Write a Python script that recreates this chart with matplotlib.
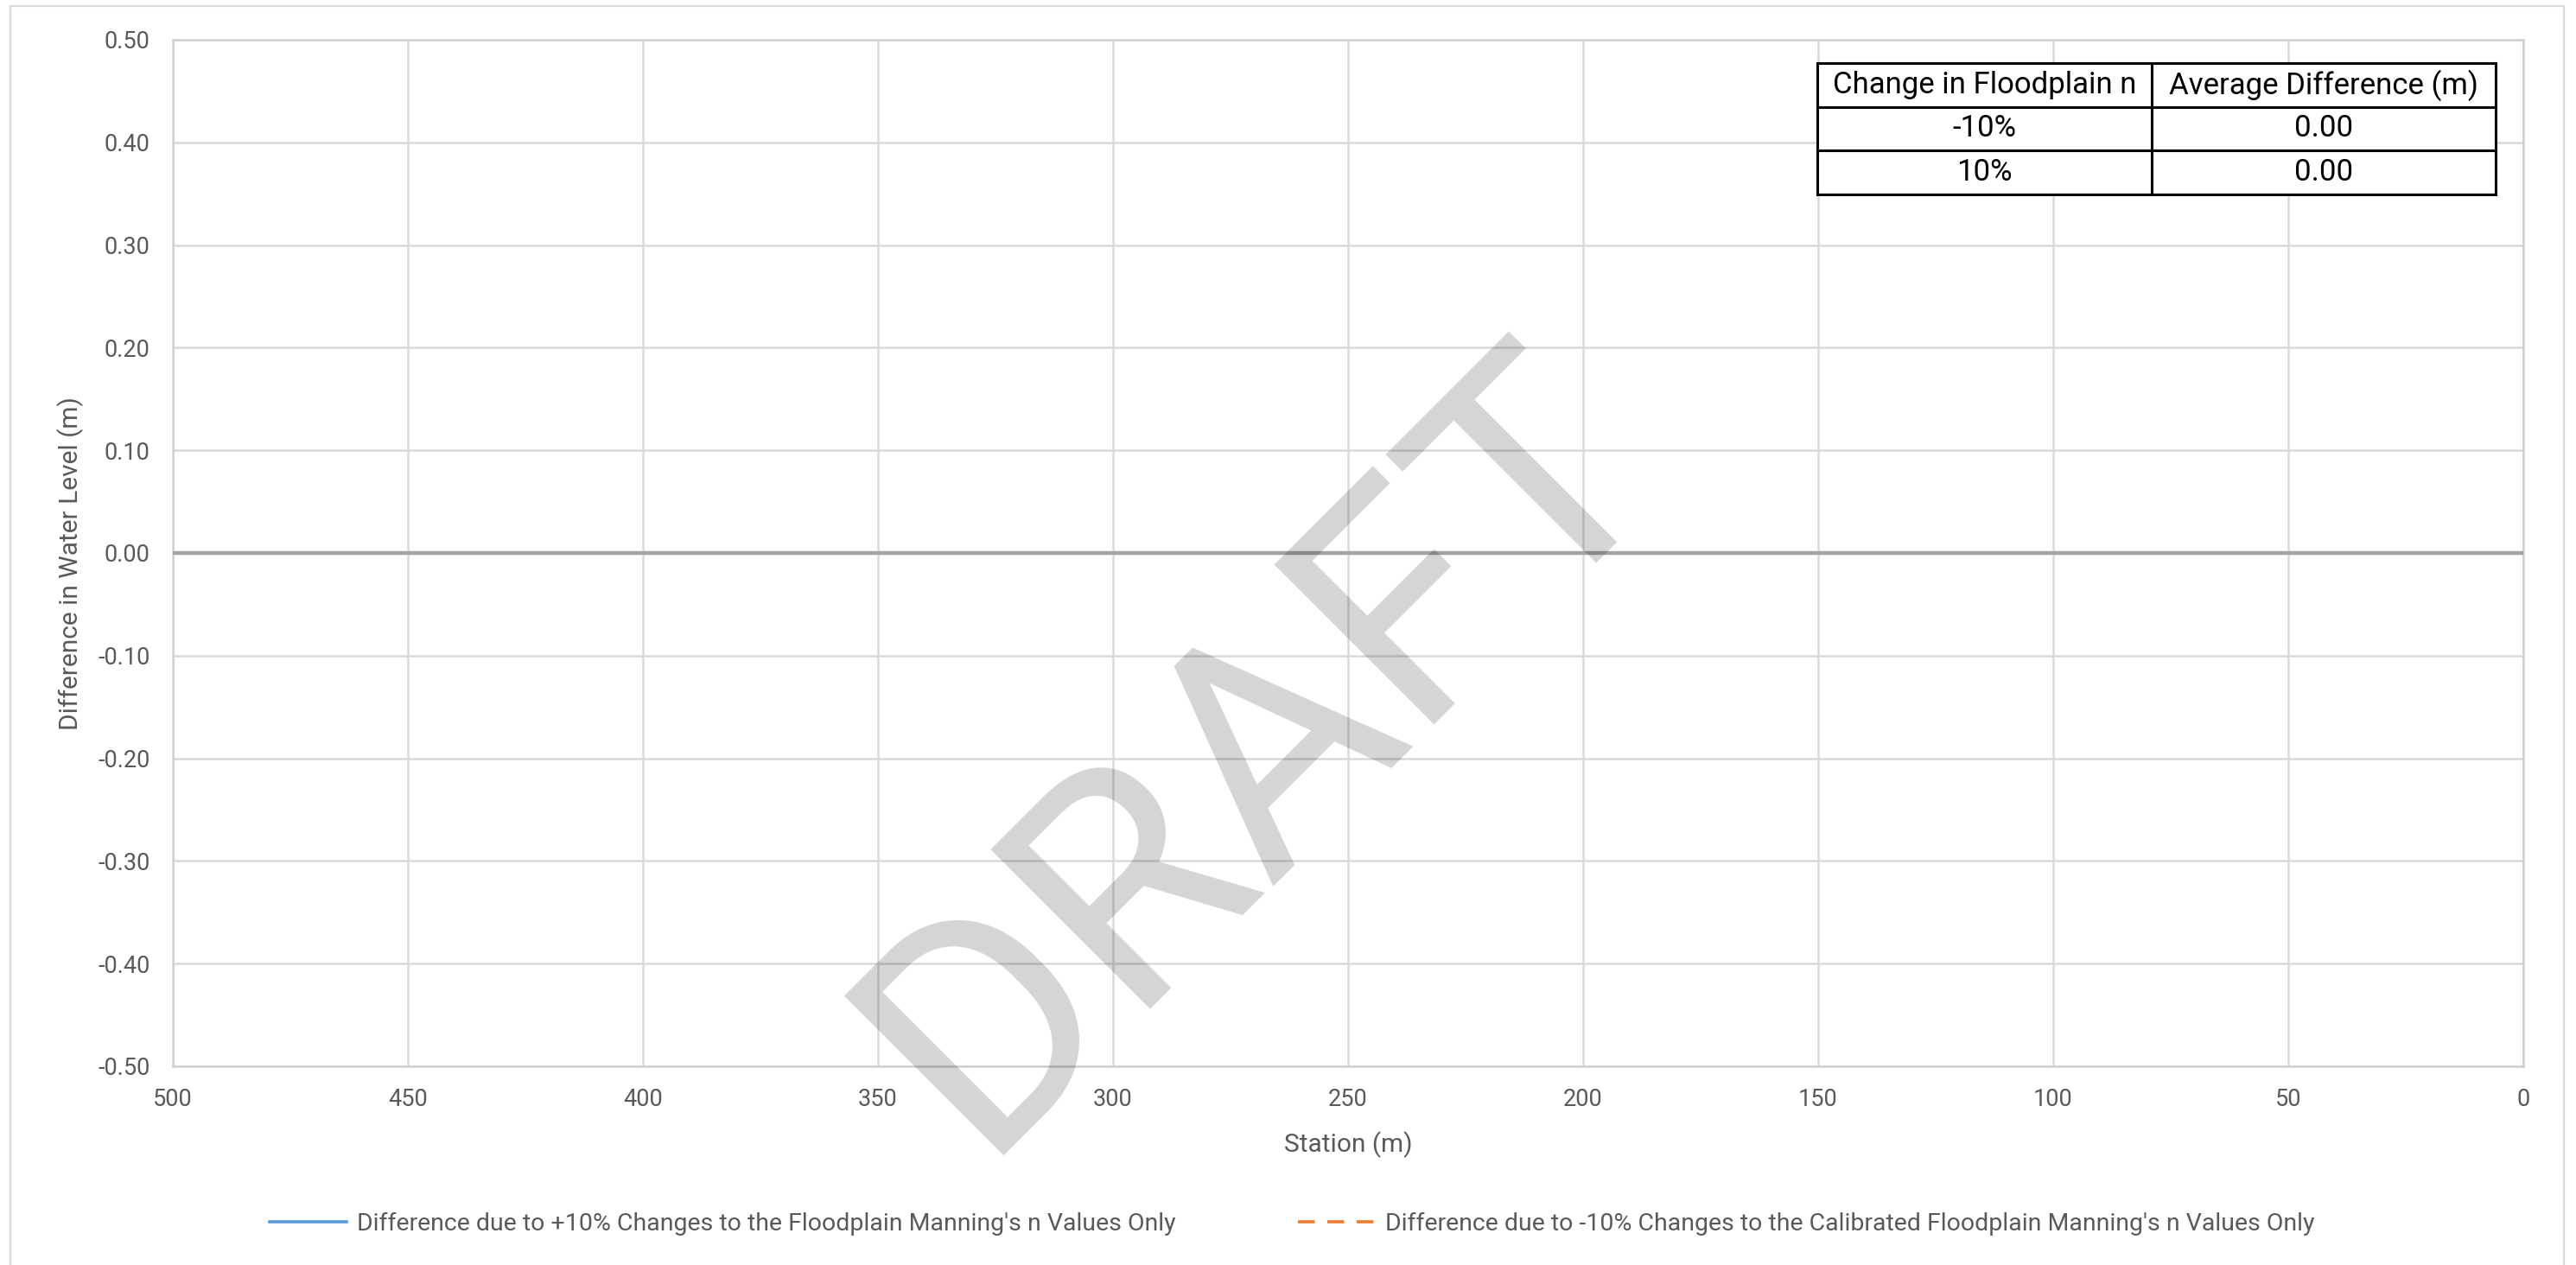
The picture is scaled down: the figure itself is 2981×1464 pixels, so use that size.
import matplotlib
matplotlib.use("Agg")
import matplotlib.pyplot as plt
from matplotlib.patches import Rectangle

plt.rcParams['font.family'] = ['Roboto', 'DejaVu Sans']

# ---- data ----
station = [500, 450, 400, 350, 300, 250, 200, 150, 100, 50, 0]
diff_plus10 = [0.00, 0.00, 0.00, 0.00, 0.00, 0.00, 0.00, 0.00, 0.00, 0.00, 0.00]
diff_minus10 = [0.00, 0.00, 0.00, 0.00, 0.00, 0.00, 0.00, 0.00, 0.00, 0.00, 0.00]

x_ticks = [500, 450, 400, 350, 300, 250, 200, 150, 100, 50, 0]
y_ticks = [-0.5, -0.4, -0.3, -0.2, -0.1, 0.0, 0.1, 0.2, 0.3, 0.4, 0.5]

table_header = ["Change in Floodplain n", "Average Difference (m)"]
table_change = ["-10%", "10%"]
table_avg = [0.00, 0.00]

label_plus = "Difference due to +10% Changes to the Floodplain Manning's n Values Only"
label_minus = "Difference due to -10% Changes to the Calibrated Floodplain Manning's n Values Only"

# ---- figure ----
W, H = 2981, 1464
fig = plt.figure(figsize=(W / 100, H / 100), dpi=100)
fig.patch.set_facecolor('white')

# outer chart-area frame
fig.patches.append(Rectangle((12 / W, -0.02), (2967 - 12) / W, 1.02 - 7 / H,
                             transform=fig.transFigure, fill=False,
                             ec='#d9d9d9', lw=1.6))

L, R, T, B = 200, 2920, 46, 1234
ax = fig.add_axes([L / W, 1 - B / H, (R - L) / W, (B - T) / H])

grid_c = '#d9d9d9'
text_c = '#595959'

ax.set_xlim(500, 0)
ax.set_ylim(-0.5, 0.5)
ax.set_xticks(x_ticks)
ax.set_xticklabels([str(v) for v in x_ticks])
ax.set_yticks(y_ticks)
ax.set_yticklabels([f"{v:.2f}".replace("-0.00", "0.00") for v in y_ticks])
ax.grid(True, color=grid_c, lw=1.8, zorder=0)
ax.set_axisbelow(True)
for s in ax.spines.values():
    s.set_color('#d0d0d0')
    s.set_linewidth(1.8)

ax.tick_params(axis='both', length=0, labelsize=19.5, labelcolor=text_c)
ax.tick_params(axis='x', pad=18)
ax.tick_params(axis='y', pad=19)

# series
l_plus, = ax.plot(station, diff_plus10, color='#5B9BD5', lw=2.6, zorder=2,
                  label=label_plus)
l_minus, = ax.plot(station, diff_minus10, color='#ED7D31', lw=2.6, zorder=2,
                   dashes=(5.4, 4.0), label=label_minus)

# horizontal axis line at zero
ax.axhline(0, color='#a3a3a3', lw=3.2, zorder=3)

# axis titles
ax.set_xlabel("Station (m)", fontsize=21.5, color=text_c)
ax.xaxis.label.set_va('center')
ax.xaxis.set_label_coords(0.5, (B - 1325) / (B - T))
ax.set_ylabel("Difference in Water Level (m)", fontsize=21.5, color=text_c)
ax.yaxis.label.set_va('center')
ax.yaxis.set_label_coords((82 - L) / (R - L), (B - 652) / (B - T))

# summary table
cell_text = [[c, f"{v:.2f}"] for c, v in zip(table_change, table_avg)]
tx0, tx1, ty0, ty1 = 2103, 2888, 73, 225
tbl = ax.table(cellText=cell_text, colLabels=table_header, cellLoc='center',
               colWidths=[387, 398],
               bbox=[(tx0 - L) / (R - L), (B - ty1) / (B - T),
                     (tx1 - tx0) / (R - L), (ty1 - ty0) / (B - T)],
               zorder=6)
tbl.auto_set_font_size(False)
tbl.set_fontsize(25)
for cell in tbl.get_celld().values():
    cell.set_edgecolor('black')
    cell.set_linewidth(2.2)
    cell.set_facecolor('white')
    cell.get_text().set_color('#000000')

# legend, two entries along the bottom
fs_leg = 20.5
px_per_fs = fs_leg * 100 / 72
for handle, x0 in ((l_plus, 312), (l_minus, 1502)):
    leg = fig.legend(handles=[handle], loc='center left',
                     bbox_to_anchor=(x0 / W, 1 - 1416 / H),
                     frameon=False, borderpad=0, borderaxespad=0,
                     handlelength=89 / px_per_fs, handletextpad=12 / px_per_fs,
                     fontsize=fs_leg)
    for t in leg.get_texts():
        t.set_color(text_c)

# watermark
fig.text(1530 / W, 1 - 938 / H, "DRAFT", fontsize=264, color='black',
         alpha=0.17, rotation=45, rotation_mode='anchor',
         ha='center', va='baseline', zorder=10)

fig.savefig("out.png", dpi=100, facecolor='white')
